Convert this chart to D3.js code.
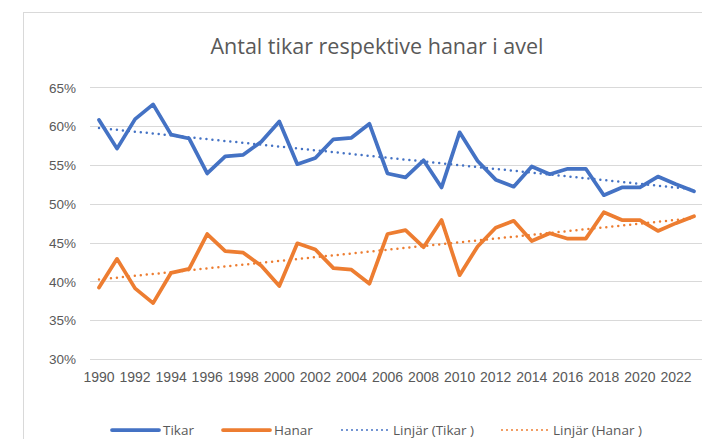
<!DOCTYPE html>
<html>
<head>
<meta charset="utf-8">
<script src="https://cdn.jsdelivr.net/npm/d3@7"></script>
<style>
  html, body { margin: 0; padding: 0; background: #fff; }
  svg { display: block; font-family: "Open Sans", "Noto Sans", sans-serif; }
</style>
</head>
<body>
<svg id="chart" width="702" height="439"></svg>
<script>
const years = d3.range(1990, 2024);
const tikar = [60.8, 57.1, 60.9, 62.8, 58.9, 58.4, 53.9, 56.1, 56.3, 58.0, 60.6, 55.1, 55.9, 58.3, 58.5, 60.3, 53.9, 53.4, 55.6, 52.1, 59.2, 55.5, 53.1, 52.2, 54.8, 53.8, 54.5, 54.5, 51.1, 52.1, 52.1, 53.5, 52.5, 51.6];
const hanar = [39.2, 42.9, 39.1, 37.2, 41.1, 41.6, 46.1, 43.9, 43.7, 42.0, 39.4, 44.9, 44.1, 41.7, 41.5, 39.7, 46.1, 46.6, 44.4, 47.9, 40.8, 44.5, 46.9, 47.8, 45.2, 46.2, 45.5, 45.5, 48.9, 47.9, 47.9, 46.5, 47.5, 48.4];
const yTicks = [30, 35, 40, 45, 50, 55, 60, 65];
const xTickLabels = d3.range(1990, 2024, 2);
const title = "Antal tikar respektive hanar i avel";
const legendItems = [
  {label: "Tikar", color: "#4472C4", dotted: false},
  {label: "Hanar", color: "#ED7D31", dotted: false},
  {label: "Linjär (Tikar )", color: "#4472C4", dotted: true},
  {label: "Linjär (Hanar )", color: "#ED7D31", dotted: true}
];

(function () {
const svg = d3.select("#chart");
const textColor = "#595959";

svg.append("rect").attr("x", 23.5).attr("y", 12.5).attr("width", 760).attr("height", 460)
  .attr("fill", "#fff").attr("stroke", "#d9d9d9").attr("stroke-width", 1);

const pLeft = 90, pRight = 703, pTop = 87.3, pBottom = 359;
const x = d3.scaleBand().domain(years).range([pLeft, pRight]);
const xc = d => x(d) + x.bandwidth() / 2;
const y = d3.scaleLinear().domain([30, 65]).range([pBottom, pTop]);

svg.append("g").selectAll("line").data(yTicks).join("line")
  .attr("x1", pLeft).attr("x2", pRight)
  .attr("y1", d => Math.round(y(d)) + 0.5).attr("y2", d => Math.round(y(d)) + 0.5)
  .attr("stroke", "#d9d9d9").attr("stroke-width", 1);

const yAxis = d3.axisLeft(y).tickValues(yTicks).tickFormat(d => d + "%").tickSize(0).tickPadding(0);
const gy = svg.append("g").attr("transform", `translate(${76},0)`).call(yAxis);
gy.select(".domain").remove();
gy.selectAll("text").attr("fill", textColor).style("font-size", "13.5px").attr("dy", "0.35em");

const xAxis = d3.axisBottom(x).tickValues(xTickLabels).tickSize(0).tickPadding(0);
const gx = svg.append("g").attr("transform", `translate(0,${372})`).call(xAxis);
gx.select(".domain").remove();
gx.selectAll("text").attr("fill", textColor).style("font-size", "14px").attr("dy", "0.71em");

function trend(vals) {
  const n = vals.length;
  const xs = d3.range(n);
  const mx = d3.mean(xs), my = d3.mean(vals);
  const b = d3.sum(xs, (xi, i) => (xi - mx) * (vals[i] - my)) / d3.sum(xs, xi => (xi - mx) ** 2);
  const a = my - b * mx;
  return years.map((yr, i) => [yr, a + b * i]);
}

const line = d3.line().x(d => xc(d[0])).y(d => y(d[1]));

function drawSeries(vals, color) {
  svg.append("path").datum(years.map((yr, i) => [yr, vals[i]]))
    .attr("d", line).attr("fill", "none").attr("stroke", color)
    .attr("stroke-width", 3.75).attr("stroke-linejoin", "round").attr("stroke-linecap", "round");
}
function drawTrend(vals, color) {
  svg.append("path").datum(trend(vals))
    .attr("d", line).attr("fill", "none").attr("stroke", color)
    .attr("stroke-width", 2.5).attr("stroke-dasharray", "0 6").attr("stroke-linecap", "round");
}
drawTrend(tikar, "#4472C4");
drawTrend(hanar, "#ED7D31");
drawSeries(tikar, "#4472C4");
drawSeries(hanar, "#ED7D31");

svg.append("text").attr("x", 377).attr("y", 54).attr("text-anchor", "middle")
  .attr("fill", textColor).style("font-size", "21.5px").text(title);

const legendX = [112, 223, 342, 502];
const lg = svg.append("g");
legendItems.forEach((it, i) => {
  const g = lg.append("g").attr("transform", `translate(${legendX[i]},430)`);
  g.append("line").attr("x1", 0).attr("x2", 47).attr("y1", 0).attr("y2", 0)
    .attr("stroke", it.color)
    .attr("stroke-width", it.dotted ? 2 : 3.75)
    .attr("stroke-linecap", "round")
    .attr("stroke-dasharray", it.dotted ? "0 5" : null);
  g.append("text").attr("x", 51).attr("y", 0).attr("dy", "0.35em")
    .attr("fill", textColor).style("font-size", "13.5px").text(it.label);
});
})();
</script>
</body>
</html>
